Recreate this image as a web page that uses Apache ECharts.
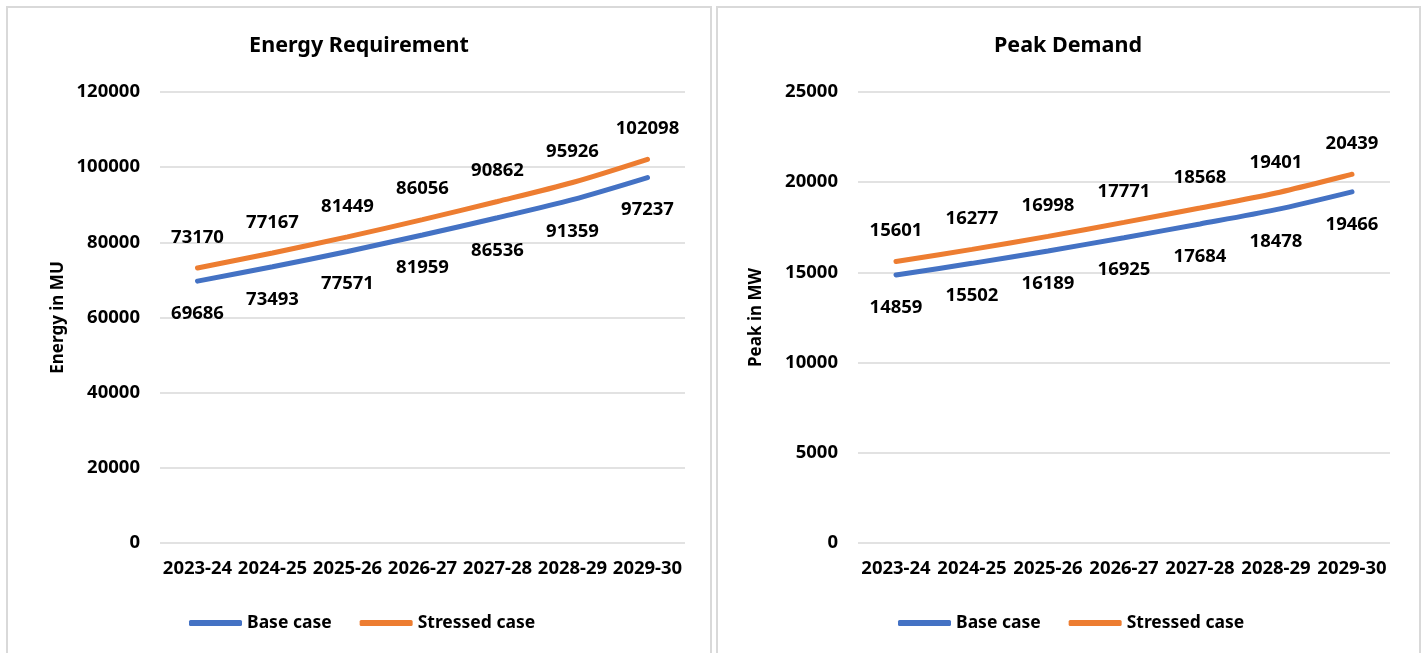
<!DOCTYPE html>
<html>
<head>
<meta charset="utf-8">
<script src="https://cdn.jsdelivr.net/npm/echarts@6/dist/echarts.min.js"></script>
<style>
  html, body { margin: 0; padding: 0; background: #fff; }
  #chart { width: 1426px; height: 653px; }
</style>
</head>
<body>
<div id="chart"></div>
<script>
const years = ['2023-24', '2024-25', '2025-26', '2026-27', '2027-28', '2028-29', '2029-30']

const energyBase = [69686, 73493, 77571, 81959, 86536, 91359, 97237]
const energyStressed = [73170, 77167, 81449, 86056, 90862, 95926, 102098]

const peakBase = [14859, 15502, 16189, 16925, 17684, 18478, 19466]
const peakStressed = [15601, 16277, 16998, 17771, 18568, 19401, 20439]

const BLUE = '#4472c4'
const ORANGE = '#ed7d31'
const FONT = 'Noto Sans'

const chart = echarts.init(document.getElementById('chart'))

function xAxis(idx) {
  return {
    type: 'category',
    gridIndex: idx,
    data: years,
    axisLine: { show: false },
    axisTick: { show: false },
    axisLabel: { color: '#000', fontWeight: 'bold', fontSize: 18.5, fontFamily: FONT, margin: 16, interval: 0 },
  }
}

function yAxis(idx, name, max, step) {
  return {
    type: 'value',
    gridIndex: idx,
    min: 0,
    max: max,
    interval: step,
    name: name,
    nameLocation: 'middle',
    nameGap: 93,
    nameTextStyle: { color: '#000', fontWeight: 'bold', fontSize: 17, fontFamily: FONT },
    axisLabel: { color: '#000', fontWeight: 'bold', fontSize: 18.5, fontFamily: FONT, margin: 20,
      formatter: (v) => String(v) },
    splitLine: { lineStyle: { color: '#d9d9d9', width: 1.5 } },
  }
}

function line(idx, name, values, color, pos) {
  return {
    type: 'line',
    name: name,
    xAxisIndex: idx,
    yAxisIndex: idx,
    data: values,
    smooth: 0.3,
    symbol: 'circle',
    symbolSize: 0,
    showSymbol: true,
    lineStyle: { color: color, width: 5, cap: 'round' },
    itemStyle: { color: color },
    label: {
      show: true,
      position: pos,
      distance: pos === 'top' ? 21 : 23,
      color: '#000',
      fontWeight: 'bold',
      fontSize: 18.5,
      fontFamily: FONT,
      formatter: (p) => String(p.value),
    },
  }
}

function legend(left) {
  return {
    left: left,
    top: 609,
    itemWidth: 53,
    itemHeight: 6,
    itemGap: 28,
    icon: 'roundRect',
    textStyle: { color: '#000', fontWeight: 'bold', fontSize: 17.5, fontFamily: FONT },
    data: ['Base case', 'Stressed case'],
  }
}

chart.setOption({
  animation: false,
  color: [BLUE, ORANGE],
  title: [
    { text: 'Energy Requirement', left: 354, top: 30, textAlign: 'center',
      textStyle: { color: '#000', fontWeight: 'bold', fontSize: 21.5, fontFamily: FONT } },
    { text: 'Peak Demand', left: 1063, top: 30, textAlign: 'center',
      textStyle: { color: '#000', fontWeight: 'bold', fontSize: 21.5, fontFamily: FONT } },
  ],
  legend: [legend(184), legend(893)],
  grid: [
    { left: 160, right: 741, top: 92, bottom: 110 },
    { left: 858, right: 36, top: 92, bottom: 110 },
  ],
  xAxis: [xAxis(0), xAxis(1)],
  yAxis: [
    yAxis(0, 'Energy in MU', 120000, 20000),
    yAxis(1, 'Peak in MW', 25000, 5000),
  ],
  series: [
    line(0, 'Base case', energyBase, BLUE, 'bottom'),
    line(0, 'Stressed case', energyStressed, ORANGE, 'top'),
    line(1, 'Base case', peakBase, BLUE, 'bottom'),
    line(1, 'Stressed case', peakStressed, ORANGE, 'top'),
  ],
  graphic: [
    { type: 'rect', shape: { x: 7, y: 7, width: 704, height: 700 },
      style: { fill: 'none', stroke: '#d9d9d9', lineWidth: 2 }, silent: true },
    { type: 'rect', shape: { x: 717, y: 7, width: 703, height: 700 },
      style: { fill: 'none', stroke: '#d9d9d9', lineWidth: 2 }, silent: true },
  ],
})
</script>
</body>
</html>
